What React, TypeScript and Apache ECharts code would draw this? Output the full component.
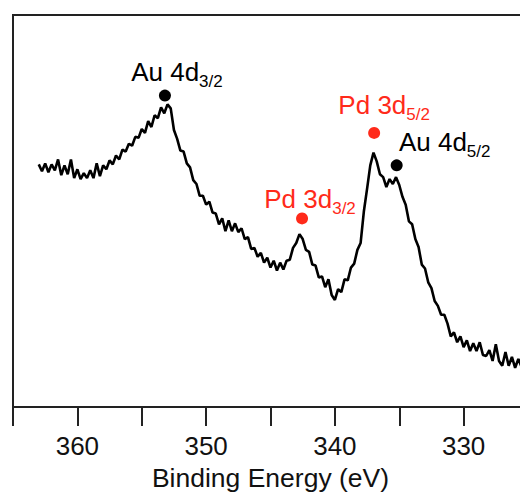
import React, { useEffect, useRef } from 'react';
import * as echarts from 'echarts';

// Binding energy grid (eV)
const energies: number[] = [
  363, 362.75, 362.5, 362.25, 362, 361.75, 361.5, 361.25, 361, 360.75,
  360.5, 360.25, 360, 359.75, 359.5, 359.25, 359, 358.75, 358.5, 358.25,
  358, 357.75, 357.5, 357.25, 357, 356.75, 356.5, 356.25, 356, 355.75,
  355.5, 355.25, 355, 354.75, 354.5, 354.25, 354, 353.75, 353.5, 353.25,
  353, 352.75, 352.5, 352.25, 352, 351.75, 351.5, 351.25, 351, 350.75,
  350.5, 350.25, 350, 349.75, 349.5, 349.25, 349, 348.75, 348.5, 348.25,
  348, 347.75, 347.5, 347.25, 347, 346.75, 346.5, 346.25, 346, 345.75,
  345.5, 345.25, 345, 344.75, 344.5, 344.25, 344, 343.75, 343.5, 343.25,
  343, 342.75, 342.5, 342.25, 342, 341.75, 341.5, 341.25, 341, 340.75,
  340.5, 340.25, 340, 339.75, 339.5, 339.25, 339, 338.75, 338.5, 338.25,
  338, 337.75, 337.5, 337.25, 337, 336.75, 336.5, 336.25, 336, 335.75,
  335.5, 335.25, 335, 334.75, 334.5, 334.25, 334, 333.75, 333.5, 333.25,
  333, 332.75, 332.5, 332.25, 332, 331.75, 331.5, 331.25, 331, 330.75,
  330.5, 330.25, 330, 329.75, 329.5, 329.25, 329, 328.75, 328.5, 328.25,
  328, 327.75, 327.5, 327.25, 327, 326.75, 326.5, 326.25, 326, 325.75,
  325.5,
];

// Intensity (arbitrary units)
const intensities: number[] = [
  247, 240, 248, 239, 247, 241, 252, 236, 246, 237,
  252, 233, 242, 232, 238, 233, 241, 233, 248, 235,
  246, 242, 251, 247, 256, 252, 262, 260, 268, 266,
  275, 274, 283, 279, 291, 285, 297, 294, 305, 299,
  308, 304, 282, 273, 261, 260, 248, 244, 231, 227,
  215, 215, 206, 209, 198, 197, 186, 192, 179, 190,
  179, 187, 178, 182, 171, 173, 161, 162, 153, 157,
  147, 152, 142, 149, 139, 147, 140, 149, 150, 162,
  167, 176, 171, 160, 158, 145, 144, 132, 133, 122,
  130, 114, 109, 120, 117, 130, 129, 142, 146, 160,
  167, 199, 222, 246, 259, 250, 237, 234, 224, 232,
  227, 234, 226, 214, 206, 189, 186, 171, 163, 145,
  141, 127, 121, 108, 103, 94, 94, 85, 72, 76,
  66, 72, 61, 68, 57, 65, 57, 66, 53, 52,
  58, 47, 64, 47, 42, 56, 42, 51, 40, 49,
  41,
];

// Peak markers
const peakNames: string[] = ['Au 4d', 'Pd 3d', 'Pd 3d', 'Au 4d'];
const peakSubs: string[] = ['3/2', '3/2', '5/2', '5/2'];
const peakEnergies: number[] = [353.2, 342.55, 336.95, 335.2];
const peakIntensities: number[] = [317, 192, 279, 246];
const peakColors: string[] = ['#000000', '#ff2a1a', '#ff2a1a', '#000000'];
const peakLabelOffsets: number[][] = [[12, -24], [8, -19], [10, -28], [48, -23]];

const xTicks: number[] = [360, 350, 340, 330];

const FONT = "'Liberation Sans', Arial, Helvetica, sans-serif";

export default function App() {
  const ref = useRef<HTMLDivElement>(null);
  useEffect(() => {
    document.body.style.margin = '0';
    const chart = echarts.init(ref.current!, null, { renderer: 'svg' });
    const lineData = energies.map((e, i) => [e, intensities[i]]);
    const peakData = peakEnergies.map((e, i) => ({
      value: [e, peakIntensities[i]],
      itemStyle: { color: peakColors[i], opacity: 1 },
      label: {
        show: true,
        position: 'inside',
        offset: peakLabelOffsets[i],
        align: 'center',
        verticalAlign: 'middle',
        formatter: `{m|${peakNames[i]}}{s|${peakSubs[i]}}`,
        rich: {
          m: { fontSize: 26, lineHeight: 36, color: peakColors[i], fontFamily: FONT, verticalAlign: 'middle' },
          s: { fontSize: 17, lineHeight: 36, color: peakColors[i], fontFamily: FONT, verticalAlign: 'bottom' },
        },
      },
    }));
    chart.setOption({
      animation: false,
      backgroundColor: '#ffffff',
      grid: {
        left: 13,
        right: 12,
        top: 15,
        bottom: 82,
        show: true,
        borderColor: '#222',
        borderWidth: 2,
      },
      xAxis: {
        type: 'value',
        min: 325,
        max: 365,
        interval: 5,
        inverse: true,
        name: 'Binding Energy (eV)',
        nameLocation: 'middle',
        nameGap: 50,
        nameTextStyle: { fontSize: 26.5, color: '#111', fontFamily: FONT },
        axisLine: { show: true, lineStyle: { color: '#222', width: 2 } },
        axisTick: { show: true, inside: false, length: 19, lineStyle: { color: '#222', width: 2 } },
        axisLabel: {
          margin: 26,
          fontSize: 26,
          color: '#111',
          fontFamily: FONT,
          formatter: (v: number) => (xTicks.includes(v) ? String(v) : ''),
        },
        splitLine: { show: false },
      },
      yAxis: {
        type: 'value',
        min: 0,
        max: 399,
        axisLine: { show: true, lineStyle: { color: '#222', width: 2 } },
        axisTick: { show: false },
        axisLabel: { show: false },
        splitLine: { show: false },
      },
      series: [
        {
          type: 'line',
          data: lineData,
          showSymbol: false,
          lineStyle: { color: '#000', width: 2.6 },
          z: 2,
        },
        {
          type: 'scatter',
          data: peakData,
          symbolSize: 12,
          z: 3,
        },
      ],
    });
    return () => chart.dispose();
  }, []);
  return (
    <div style={{ width: 520, height: 496, overflow: 'hidden', position: 'relative' }}>
      <div ref={ref} style={{ width: 540, height: 496 }} />
    </div>
  );
}
